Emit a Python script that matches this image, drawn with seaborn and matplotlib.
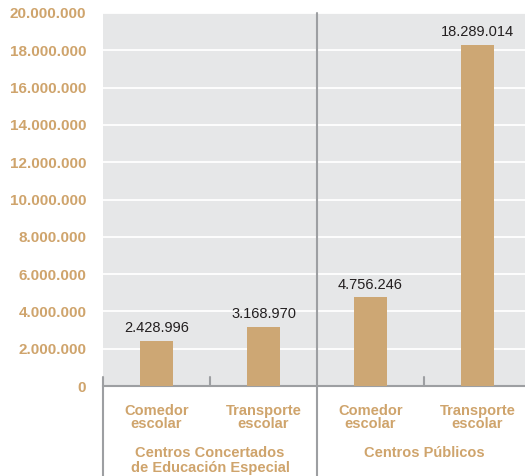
import matplotlib
matplotlib.use("Agg")
import matplotlib.pyplot as plt
import matplotlib.transforms as mtransforms
import seaborn as sns
import pandas as pd

# Datos
grupos = ["Centros Concertados\nde Educación Especial", "Centros Públicos"]
servicios = ["Comedor\nescolar", "Transporte\nescolar", "Comedor\nescolar", "Transporte\nescolar"]
grupo_de_barra = [0, 0, 1, 1]
importes = [2428996, 3168970, 4756246, 18289014]
y_ticks = list(range(0, 20000001, 2000000))

df = pd.DataFrame({
    "clave": [f"b{i}" for i in range(len(importes))],
    "servicio": servicios,
    "importe": importes,
})

def miles(v):
    return f"{int(v):,}".replace(",", ".")

COLOR_BARRA = "#CDA774"
COLOR_TEXTO = "#CFA46C"
COLOR_LINEA = "#9D9FA2"
FONDO = "#E6E7E8"

sns.set_style("white")
plt.rcParams["font.family"] = ["Liberation Sans", "DejaVu Sans"]

fig = plt.figure(figsize=(5.25, 4.76), dpi=100)
ax = fig.add_axes([103 / 525, 90 / 476, 428 / 525, 373 / 476])
ax.set_facecolor(FONDO)

sns.barplot(data=df, x="clave", y="importe", color=COLOR_BARRA, width=0.31,
            saturation=1, linewidth=0, ax=ax, zorder=3)

ax.set_xlim(-0.5, 3.5)
ax.set_ylim(0, 20000000)
ax.set_yticks(y_ticks)
ax.set_yticklabels([miles(v) for v in y_ticks], fontsize=11, fontweight="bold",
                   color=COLOR_TEXTO)
ax.yaxis.grid(True, color="white", linewidth=1.3, zorder=0)
ax.set_axisbelow(True)
ax.tick_params(axis="y", length=0, pad=12)

ax.set_xticks(range(len(servicios)))
ax.set_xticklabels(servicios, fontsize=10.5, fontweight="bold", color=COLOR_TEXTO,
                   linespacing=0.9)
ax.tick_params(axis="x", length=0, pad=13)
ax.set_xlabel("")
ax.set_ylabel("")

for s in ["top", "right", "left"]:
    ax.spines[s].set_visible(False)
ax.spines["bottom"].set_color(COLOR_LINEA)
ax.spines["bottom"].set_linewidth(1.5)

# etiquetas de valor
ax.bar_label(ax.containers[0], labels=[miles(v) for v in importes], padding=4,
             fontsize=10.5, color="#231F20")

# líneas separadoras
trans = mtransforms.blended_transform_factory(ax.transData, ax.transAxes)
ax.plot([1.5, 1.5], [-0.25, 1.0], transform=trans, color=COLOR_LINEA, lw=1.5,
        clip_on=False, zorder=4)
for xs in [-0.5, 3.5]:
    ax.plot([xs, xs], [-0.25, 0.025], transform=trans, color=COLOR_LINEA, lw=1.5,
            clip_on=False, zorder=4)
for xs in [0.5, 2.5]:
    ax.plot([xs, xs], [0, 0.025], transform=trans, color=COLOR_LINEA, lw=1.5,
            clip_on=False, zorder=4)

# etiquetas de grupo
for g, nombre in enumerate(grupos):
    xs = [i for i, gb in enumerate(grupo_de_barra) if gb == g]
    ax.text(sum(xs) / len(xs), -0.16, nombre, transform=trans, ha="center",
            va="top", fontsize=10.5, fontweight="bold", color=COLOR_TEXTO,
            linespacing=1.1)

fig.savefig("out.png", dpi=100)
